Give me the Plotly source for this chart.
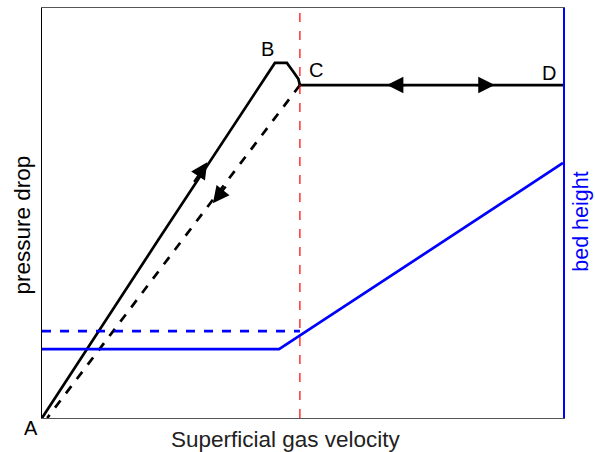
import plotly.graph_objects as go

# Pressure-drop curve: rising branch A -> B, rounded peak, then C -> D plateau
rise_x = [0.0, 2.23, 4.47, 4.70, 4.82, 4.92, 4.95]
rise_y = [0.0, 4.34, 8.66, 8.66, 8.45, 8.27, 8.12]
plateau_x = [4.95, 10.0]
plateau_y = [8.12, 8.12]
# Decreasing-velocity branch back to A
fall_x = [4.95, 0.1]
fall_y = [8.12, 0.0]

# Bed height: fixed bed, then expansion after minimum fluidization
bed_x = [0.0, 4.55, 10.0]
bed_y = [1.68, 1.68, 6.22]
bed_return_x = [0.0, 4.95]
bed_return_y = [2.12, 2.12]

u_mf = 4.95

BLACK = "#000000"
BLUE = "#0000ff"
RED = "#ff0000"
FONT = "Liberation Sans, Arial, sans-serif"

fig = go.Figure()
fig.add_trace(go.Scatter(x=rise_x, y=rise_y, mode="lines",
                         line=dict(color=BLACK, width=2.7)))
fig.add_trace(go.Scatter(x=plateau_x, y=plateau_y, mode="lines",
                         line=dict(color=BLACK, width=2.7)))
fig.add_trace(go.Scatter(x=fall_x, y=fall_y, mode="lines",
                         line=dict(color=BLACK, width=2.7, dash="dash")))
fig.add_trace(go.Scatter(x=bed_x, y=bed_y, mode="lines", yaxis="y2",
                         line=dict(color=BLUE, width=2.7)))
fig.add_trace(go.Scatter(x=bed_return_x, y=bed_return_y, mode="lines", yaxis="y2",
                         line=dict(color=BLUE, width=2.7, dash="dash")))
fig.add_trace(go.Scatter(x=[u_mf, u_mf], y=[0, 10], mode="lines",
                         line=dict(color=RED, width=1.2, dash="dash")))

# Direction arrows along the curves (tip, tail)
arrows = [
    ((3.17, 6.24), (2.90, 5.72)),
    ((3.28, 5.24), (3.55, 5.68)),
    ((6.62, 8.12), (7.00, 8.12)),
    ((8.69, 8.12), (8.30, 8.12)),
]
for (tx, ty), (sx, sy) in arrows:
    fig.add_annotation(x=tx, y=ty, ax=sx, ay=sy, xref="x", yref="y",
                       axref="x", ayref="y", showarrow=True, text="",
                       arrowhead=2, arrowsize=1.5, arrowwidth=2.2,
                       arrowcolor=BLACK)

# Point labels (paper coordinates so "A" can sit outside the plot area)
for txt, px, py in [("A", -0.021, -0.024), ("B", 0.433, 0.900),
                    ("C", 0.525, 0.849), ("D", 0.973, 0.841)]:
    fig.add_annotation(x=px, y=py, xref="paper", yref="paper", text=txt,
                       showarrow=False, xanchor="center", yanchor="middle",
                       font=dict(family=FONT, size=20, color=BLACK))

# Axis titles
fig.add_annotation(x=0.468, y=-0.053, xref="paper", yref="paper",
                   text="Superficial gas velocity", showarrow=False,
                   yanchor="middle", font=dict(family=FONT, size=22.5, color="#222222"))
fig.add_annotation(x=-0.038, y=0.47, xref="paper", yref="paper",
                   text="pressure drop", showarrow=False, textangle=-90,
                   xanchor="center", font=dict(family=FONT, size=22.5, color=BLACK))
fig.add_annotation(x=1.034, y=0.478, xref="paper", yref="paper",
                   text="bed height", showarrow=False, textangle=-90,
                   xanchor="center", borderpad=0,
                   font=dict(family=FONT, size=21.5, color=BLUE))

fig.update_layout(
    width=595, height=452,
    margin=dict(l=42, r=32, t=8, b=34),
    paper_bgcolor="white", plot_bgcolor="white",
    showlegend=False,
    xaxis=dict(range=[0, 10], showgrid=False, zeroline=False,
               showticklabels=False, ticks="", showline=True,
               linecolor="#555555", linewidth=1, mirror=True),
    yaxis=dict(range=[0, 10], showgrid=False, zeroline=False,
               showticklabels=False, ticks="", showline=True,
               linecolor=BLACK, linewidth=1),
    yaxis2=dict(range=[0, 10], overlaying="y", side="right", showgrid=False,
                zeroline=False, showticklabels=False, ticks="",
                showline=True, linecolor=BLUE, linewidth=1.5),
)

fig.write_html("out.html")
